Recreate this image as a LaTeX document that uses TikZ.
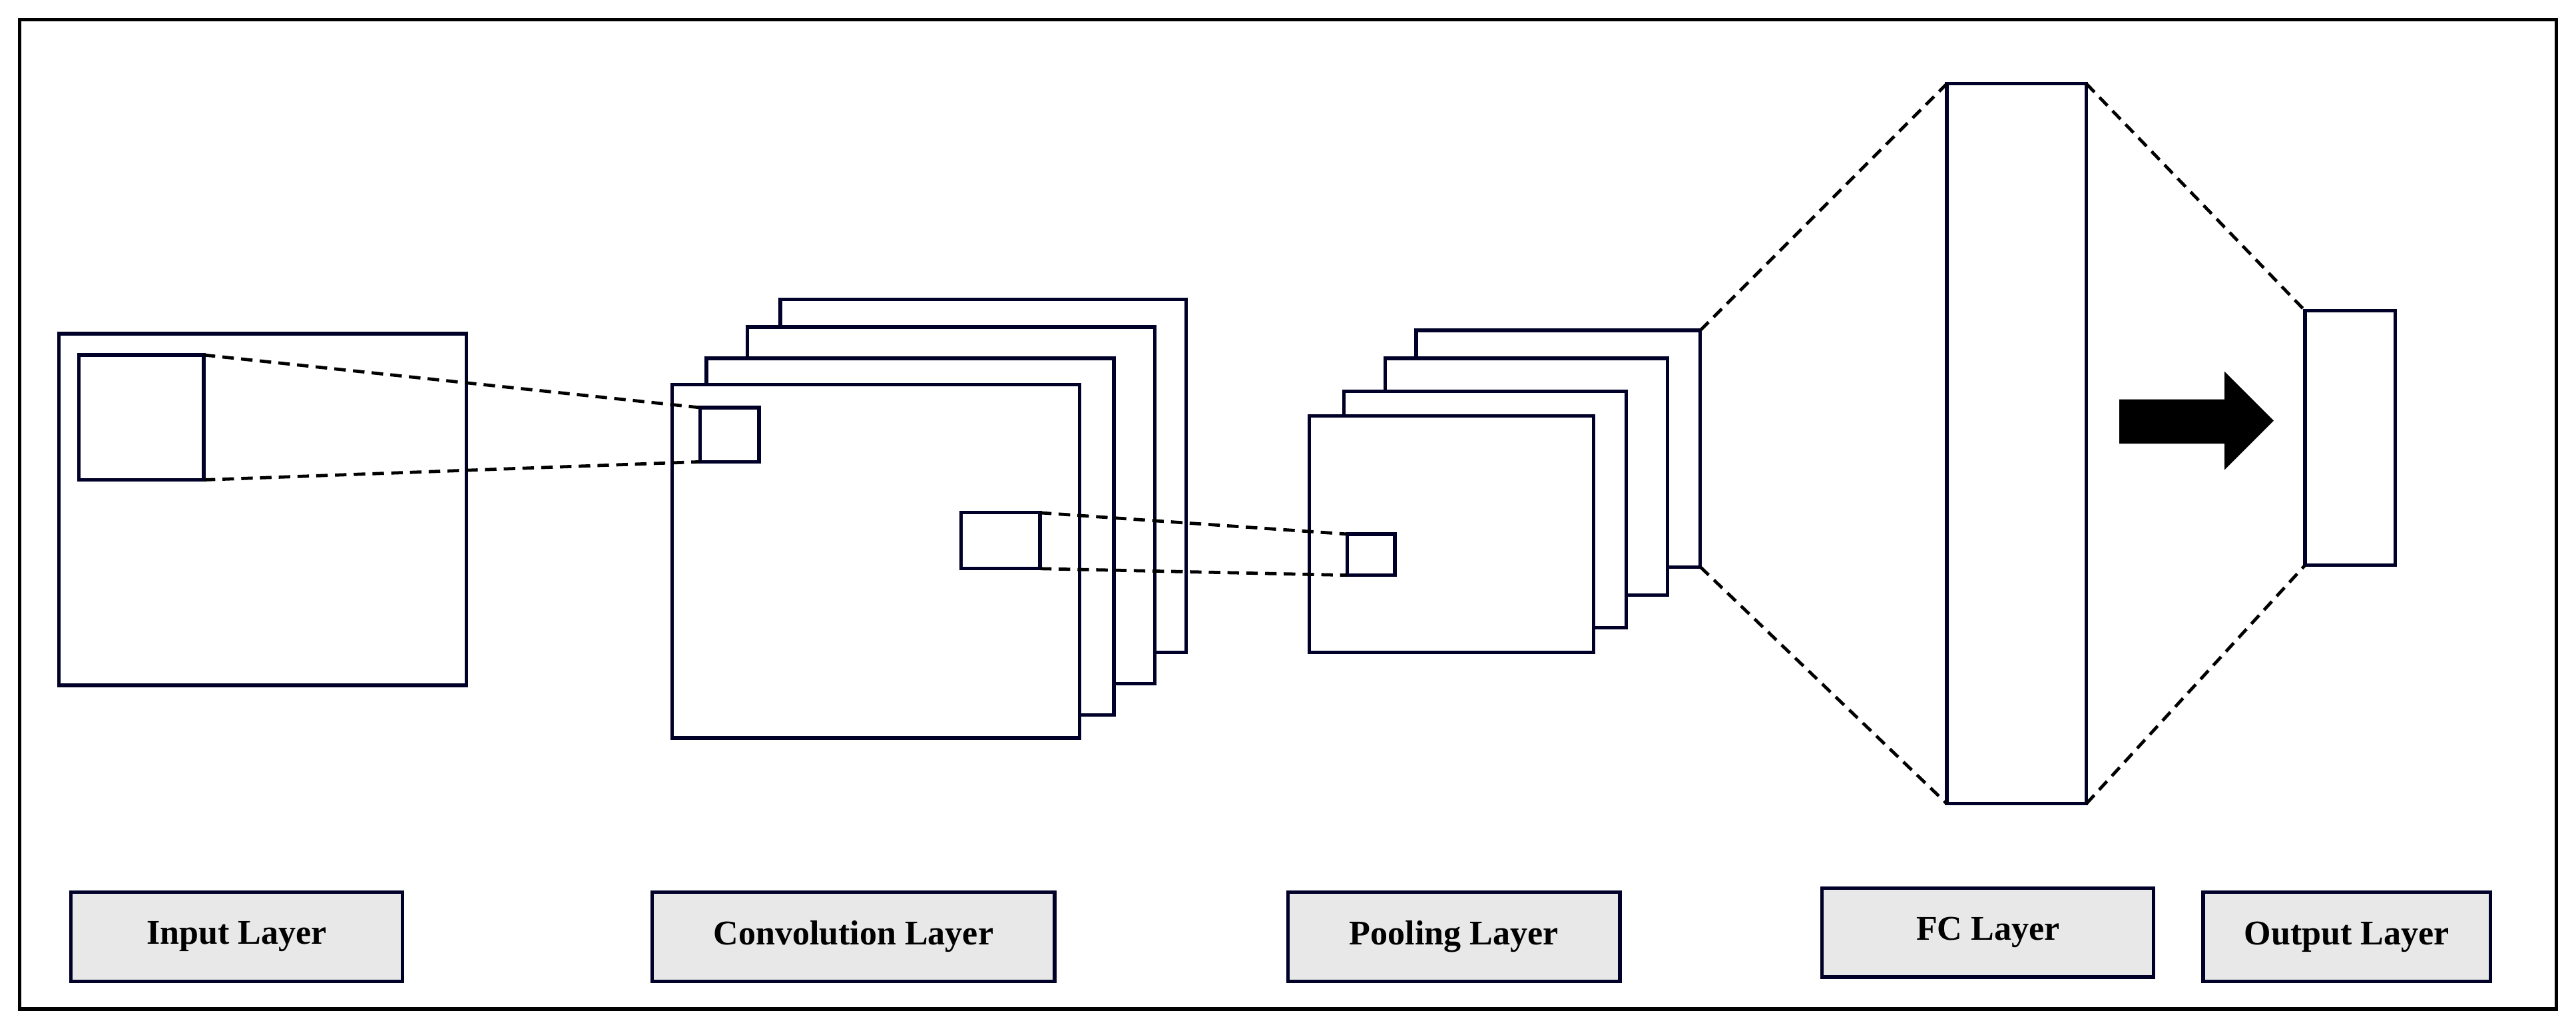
\documentclass[tikz,border=0pt]{standalone}
\usepackage{fontspec}
\setmainfont{Liberation Serif}
\begin{document}
\begin{tikzpicture}[x=0.02cm,y=-0.02cm,
  navy/.style={draw=black!60!blue!40!black, line width=1.2pt},
  lay/.style={navy, fill=white},
  dsh/.style={black, line width=1.1pt, dash pattern=on 4pt off 2.5pt},
  lbl/.style={navy, fill=gray!18, minimum width=#1, minimum height=1.08cm, inner sep=0pt, font=\bfseries\fontsize{12}{14}\selectfont}]
\useasboundingbox (0,0) rectangle (1568,627);
\draw[black, line width=1.3pt] (12,12) rectangle (1556,614);
% input
\draw[lay] (36,203) rectangle (284,417);
\draw[lay] (48,216) rectangle (124,292);
\coordinate (i1) at (124,216); \coordinate (i2) at (124,292);
% conv
\draw[lay] (475,182) rectangle (722,397);
\draw[lay] (455,199) rectangle (703,416);
\draw[lay] (430,218) rectangle (678,435);
\draw[lay] (409,234) rectangle (657,449);
\draw[lay] (426,248) rectangle (462,281);
\draw[lay] (585,312) rectangle (633,346);
\coordinate (c1) at (426,248); \coordinate (c2) at (426,281);
\coordinate (c3) at (633,312); \coordinate (c4) at (633,346);
\draw[dsh] (i1) -- (c1); \draw[dsh] (i2) -- (c2);
% pooling
\draw[lay] (862,201) rectangle (1035,345);
\draw[lay] (843,218) rectangle (1015,362);
\draw[lay] (818,238) rectangle (990,382);
\draw[lay] (797,253) rectangle (970,397);
\draw[lay] (820,325) rectangle (849,350);
\coordinate (p1) at (820,325); \coordinate (p2) at (820,350);
\draw[dsh] (c3) -- (p1); \draw[dsh] (c4) -- (p2);
\coordinate (p3) at (1035,201); \coordinate (p4) at (1035,345);
% FC
\draw[lay] (1185,51) rectangle (1270,489);
\coordinate (f1) at (1185,51); \coordinate (f2) at (1185,489);
\coordinate (f3) at (1270,51); \coordinate (f4) at (1270,489);
\draw[dsh] (p3) -- (f1); \draw[dsh] (p4) -- (f2);
% output
\draw[lay] (1403,189) rectangle (1458,344);
\coordinate (o1) at (1403,189); \coordinate (o2) at (1403,344);
\draw[dsh] (f3) -- (o1); \draw[dsh] (f4) -- (o2);
% arrow
\fill[black] (1290,243) -- (1354,243) -- (1354,226) -- (1384,256) -- (1354,286) -- (1354,270) -- (1290,270) -- cycle;
% labels
\node[lbl=4.04cm] (l1) at (144,570) {Input Layer};
\node[lbl=4.9cm] (l2) at (519.5,570) {Convolution Layer};
\node[lbl=4.04cm] (l3) at (885,570) {Pooling Layer};
\node[lbl=4.04cm] (l4) at (1210,567.5) {FC Layer};
\node[lbl=3.5cm] (l5) at (1428.5,570) {Output Layer};
\end{tikzpicture}
\end{document}
